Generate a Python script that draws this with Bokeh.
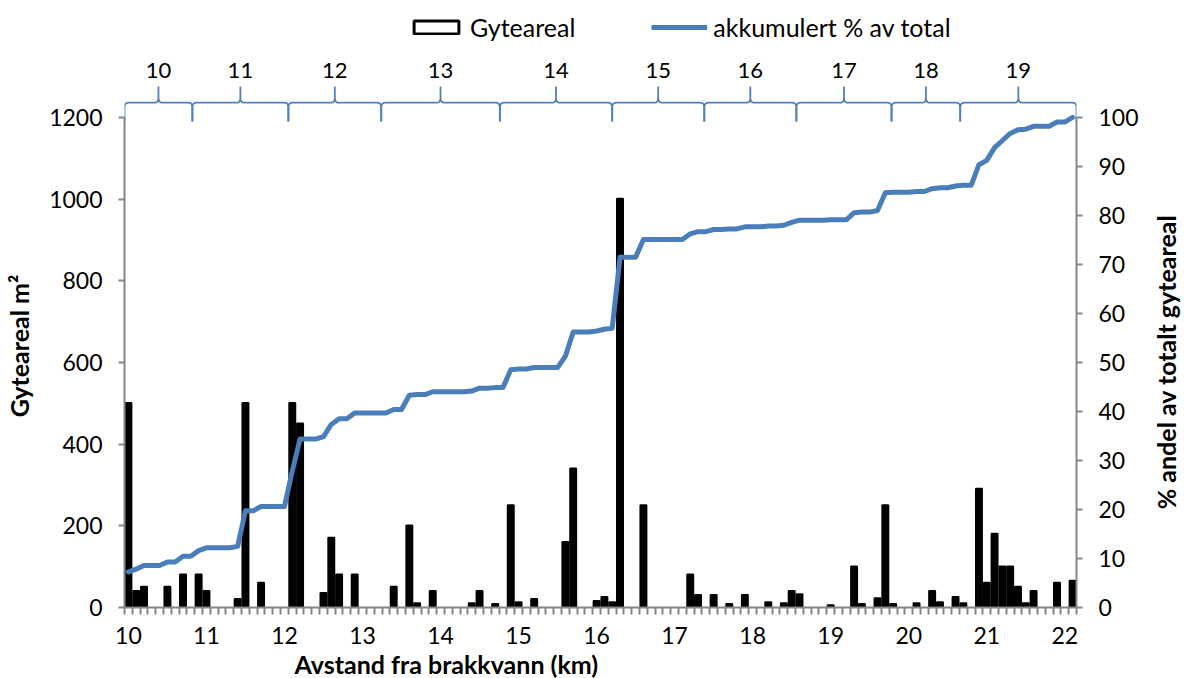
import numpy as np
from bokeh.plotting import figure
from bokeh.layouts import column, row
from bokeh.models import (Range1d, LinearAxis, FixedTicker, Legend, LegendItem,
                          ColumnDataSource, Title)
from bokeh.embed import file_html
from bokeh.resources import INLINE
from bokeh.core.properties import value

# Spawning area (m²) per 0.1 km stretch; stretches without spawning area are left out
km = [10.0, 10.1, 10.2, 10.5, 10.7, 10.9, 11.0, 11.4, 11.5, 11.7,
      12.1, 12.2, 12.5, 12.6, 12.7, 12.9, 13.4, 13.6, 13.7, 13.9,
      14.4, 14.5, 14.7, 14.9, 15.0, 15.2, 15.6, 15.7, 16.0, 16.1, 16.2,
      16.3, 16.6, 17.2, 17.3, 17.5, 17.7, 17.9, 18.2, 18.4, 18.5, 18.6,
      19.0, 19.3, 19.4, 19.6, 19.7, 19.8, 20.1, 20.3, 20.4, 20.6, 20.7,
      20.9, 21.0, 21.1, 21.2, 21.3, 21.4, 21.5, 21.6, 21.9, 22.1]
areal = [500, 40, 50, 50, 80, 80, 40, 20, 500, 60,
         500, 450, 35, 170, 80, 80, 50, 200, 10, 40,
         10, 40, 8, 250, 12, 20, 160, 340, 15, 25, 12,
         1000, 250, 80, 30, 30, 8, 30, 12, 10, 40, 32,
         5, 100, 8, 22, 250, 8, 10, 40, 12, 25, 10,
         290, 60, 180, 100, 100, 50, 10, 40, 60, 65]

# River sections (braces above the chart) and their km limits
section_names = ["10", "11", "12", "13", "14", "15", "16", "17", "18", "19"]
section_edges = [9.95, 10.82, 12.05, 13.24, 14.76, 16.20, 17.38, 18.56, 19.78, 20.66, 22.15]

x_ticks = list(range(10, 23))
left_ticks = list(range(0, 1201, 200))
right_ticks = list(range(0, 101, 10))

# All 0.1 km stretches and the cumulative share of the total spawning area
stretch = np.round(np.arange(10.0, 22.15, 0.1), 1)
lookup = dict(zip(km, areal))
per_stretch = np.array([lookup.get(float(s), 0) for s in stretch], dtype=float)
cum_pct = np.cumsum(per_stretch) / per_stretch.sum() * 100

FONT = "Lato"
AXIS_GREY = "#868686"
BLUE = "#4A7EBB"
BRACE_BLUE = "#4F81BD"
W = 1184
KEY_H = 84
MAIN_H = 678 - KEY_H
SIDE_W = 40          # strip right of the chart holding the right-hand title
BORDER_L, BORDER_R, BORDER_B = 124, 108, 70
FRAME_H = MAIN_H - BORDER_B

x_range = Range1d(9.95, 22.15)

# ------------------------------------------------- legend and section names strip
key = figure(width=W, height=KEY_H, output_backend="svg", toolbar_location=None,
             x_range=x_range, y_range=Range1d(0, KEY_H),
             x_axis_type=None, y_axis_type=None,
             min_border_left=BORDER_L, min_border_right=BORDER_R,
             min_border_top=0, min_border_bottom=0)
key.outline_line_color = None
key.grid.visible = False
# degenerate key glyphs (zero-size bar, one-point line) on the legend's own symbol:
# they draw nothing of their own, only their legend symbols show
key_bar = key.vbar(x=[13.66], top=[57], bottom=57, width=0, fill_color="white",
                   line_color="black", line_width=3)
key_line = key.line(x=[13.66], y=[57], line_color=BLUE, line_width=5)
legend = Legend(items=[LegendItem(label="Gyteareal", renderers=[key_bar]),
                       LegendItem(label="akkumulert % av total", renderers=[key_line])],
                orientation="horizontal", location=(284, 42),
                padding=0, margin=0, spacing=76, label_standoff=6,
                glyph_width=56, glyph_height=16,
                border_line_color=None, background_fill_alpha=0,
                label_text_font=FONT, label_text_font_size="25px",
                label_text_color="black")
key.add_layout(legend)

mids = [(a + b) / 2 for a, b in zip(section_edges[:-1], section_edges[1:])]
key.text(x=mids, y=[14] * len(mids), text=section_names, text_align="center",
         text_baseline="middle", text_font=value(FONT), text_font_size="22px",
         text_color="black")

# ---------------------------------------------------------------- main chart
# headroom above 1200 holds the section braces
Y_END = 1280.6
p = figure(width=W - SIDE_W, height=MAIN_H, output_backend="svg", toolbar_location=None,
           x_range=x_range, y_range=Range1d(0, Y_END),
           min_border_left=BORDER_L, min_border_right=BORDER_R - SIDE_W,
           min_border_top=0, min_border_bottom=BORDER_B)
p.extra_y_ranges = {"pct": Range1d(0, Y_END / 12)}
p.xgrid.visible = False
p.ygrid.visible = False
p.outline_line_color = None
p.background_fill_color = "white"
p.border_fill_color = "white"


def style_tick_text(ax, size="23px"):
    ax.major_label_text_font = FONT
    ax.major_label_text_font_size = size
    ax.major_label_text_color = "black"


# x axis: short ticks between the 0.1 km stretches, labels every km
xa = p.xaxis[0]
xa.ticker = FixedTicker(ticks=x_ticks,
                        minor_ticks=list(np.round(np.arange(9.95, 22.2, 0.1), 2)))
xa.major_tick_line_color = None
xa.major_tick_out = 0
xa.major_tick_in = 0
xa.minor_tick_in = 0
xa.minor_tick_out = 7
xa.minor_tick_line_color = AXIS_GREY
xa.minor_tick_line_width = 2
xa.axis_line_color = AXIS_GREY
xa.axis_line_width = 2
xa.major_label_standoff = 12
style_tick_text(xa)

# left axis (m²)
ya = p.yaxis[0]
ya.ticker = FixedTicker(ticks=left_ticks, minor_ticks=[])
ya.bounds = (0, 1200)
ya.major_tick_in = 0
ya.major_tick_out = 6
ya.major_tick_line_color = AXIS_GREY
ya.major_tick_line_width = 2
ya.minor_tick_line_color = None
ya.axis_line_color = AXIS_GREY
ya.axis_line_width = 2
ya.major_label_standoff = 16
style_tick_text(ya)
ya.axis_label = "Gyteareal m²"
ya.axis_label_text_font = FONT
ya.axis_label_text_font_style = "bold"
ya.axis_label_text_font_size = "25px"
ya.axis_label_text_color = "black"
ya.axis_label_standoff = 12

# right axis (% of total)
ra = LinearAxis(y_range_name="pct", bounds=(0, 100),
                ticker=FixedTicker(ticks=right_ticks, minor_ticks=[]))
ra.major_tick_in = 0
ra.major_tick_out = 6
ra.major_tick_line_color = AXIS_GREY
ra.major_tick_line_width = 2
ra.minor_tick_line_color = None
ra.axis_line_color = AXIS_GREY
ra.axis_line_width = 2
ra.major_label_standoff = 16
style_tick_text(ra)
p.add_layout(ra, "right")

# x axis title under the km labels
p.add_layout(Title(text="Avstand fra brakkvann (km)", align="left", offset=170,
                   standoff=0, text_font=FONT, text_font_style="bold",
                   text_font_size="25px", text_color="black"), "below")

# spawning area bars
src = ColumnDataSource(dict(km=km, areal=areal))
p.vbar(x="km", top="areal", bottom=0, width=0.07, source=src,
       fill_color="black", line_color="black", line_width=2.5, line_join="round")

# cumulative share line
p.line(x=stretch, y=cum_pct, y_range_name="pct", line_color=BLUE,
       line_width=5, line_join="round", line_cap="round")


# section braces: a peak at each section's middle, hooks at its limits
def corner(p0, c, p1, n=8):
    t = np.linspace(0, 1, n)
    xs = (1 - t) ** 2 * p0[0] + 2 * (1 - t) * t * c[0] + t ** 2 * p1[0]
    ys = (1 - t) ** 2 * p0[1] + 2 * (1 - t) * t * c[1] + t ** 2 * p1[1]
    return list(xs), list(ys)


Y_BAR, Y_TIP, Y_HOOK = 1236, 1276, 1190
RX, RY = 0.05, 12
brace_xs, brace_ys = [], []
for a, b, m in zip(section_edges[:-1], section_edges[1:], mids):
    xs, ys = [a], [Y_HOOK]
    for seg in (corner((a, Y_BAR - RY), (a, Y_BAR), (a + RX, Y_BAR)),
                corner((m - RX, Y_BAR), (m, Y_BAR), (m, Y_BAR + RY))):
        xs += seg[0]
        ys += seg[1]
    xs.append(m)
    ys.append(Y_TIP)
    for seg in (corner((m, Y_BAR + RY), (m, Y_BAR), (m + RX, Y_BAR)),
                corner((b - RX, Y_BAR), (b, Y_BAR), (b, Y_BAR - RY))):
        xs += seg[0]
        ys += seg[1]
    xs.append(b)
    ys.append(Y_HOOK)
    brace_xs.append(xs)
    brace_ys.append(ys)

p.multi_line(xs=brace_xs, ys=brace_ys, line_color=BRACE_BLUE, line_width=1.8)

# ------------------------------------------------ right-hand title (reads upwards)
side = figure(width=SIDE_W, height=MAIN_H, output_backend="svg", toolbar_location=None,
              x_range=Range1d(0, SIDE_W), y_range=Range1d(0, FRAME_H),
              x_axis_type=None, y_axis_type=None,
              min_border_left=0, min_border_right=0,
              min_border_top=0, min_border_bottom=BORDER_B)
side.outline_line_color = None
side.grid.visible = False
side.text(x=[21], y=[FRAME_H - (362 - KEY_H)], text=["% andel av totalt gyteareal"],
          angle=np.pi / 2, text_align="center", text_baseline="middle",
          text_font=value(FONT), text_font_style="bold", text_font_size="25px",
          text_color="black")

page = column(key, row(p, side, spacing=0), spacing=0)
open("out.html", "w").write(file_html(page, INLINE))
